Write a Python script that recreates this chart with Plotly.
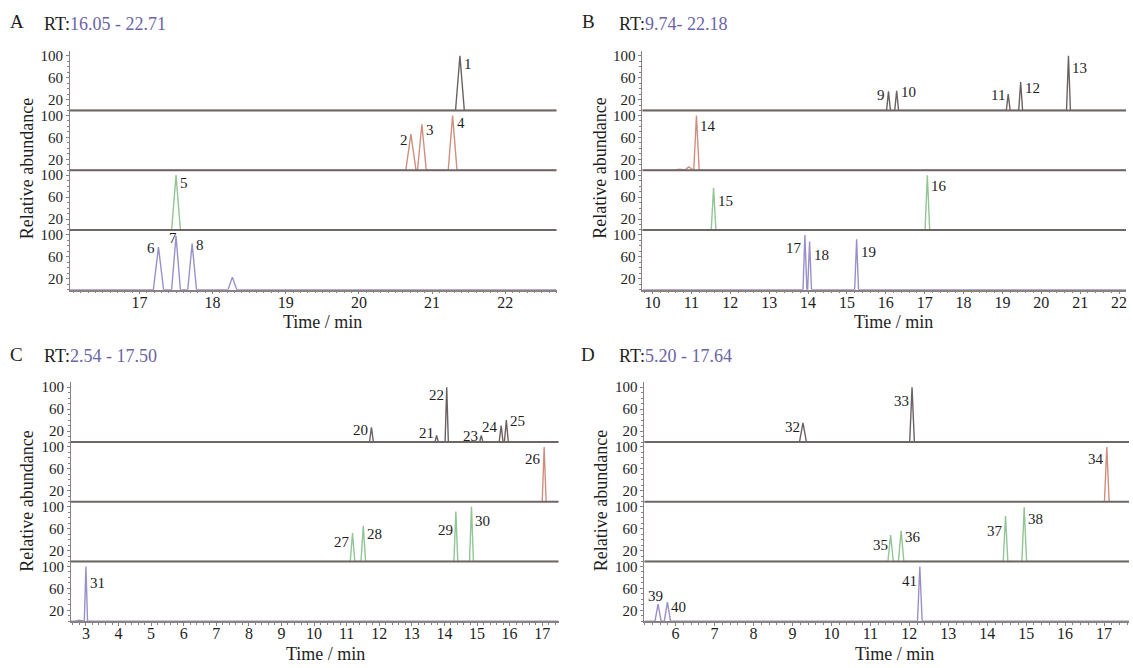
import plotly.graph_objects as go

W, H = 1133, 668
FONT = "Liberation Serif"

# ---------------- data ----------------
panel_letters = ["A", "B", "C", "D"]
rt_windows = ["16.05 - 22.71", "9.74- 22.18", "2.54 - 17.50", "5.20 - 17.64"]
y_tick_vals = [20, 60, 100]
y_tick_text = ["20", "60", "100"]

# Panel A  (retention time / min, relative abundance %, half base width / min, label)
A1_rt = [21.38];                    A1_h = [100];               A1_w = [0.06];                    A1_lab = ["1"]
A2_rt = [20.71, 20.86, 21.28];      A2_h = [66, 84, 100];       A2_w = [0.07, 0.06, 0.06];        A2_lab = ["2", "3", "4"]
A3_rt = [17.50];                    A3_h = [100];               A3_w = [0.06];                    A3_lab = ["5"]
A4_rt = [17.26, 17.50, 17.72, 18.27]; A4_h = [78, 98, 84, 23];  A4_w = [0.07, 0.06, 0.06, 0.06];  A4_lab = ["6", "7", "8", ""]

# Panel B
B1_rt = [16.07, 16.28, 19.15, 19.47, 20.70]; B1_h = [35, 36, 30, 52, 100]; B1_w = [0.05, 0.05, 0.05, 0.05, 0.05]; B1_lab = ["9", "10", "11", "12", "13"]
B2_rt = [10.70, 10.93, 11.13];      B2_h = [2, 6, 100];         B2_w = [0.15, 0.10, 0.07];        B2_lab = ["", "", "14"]
B3_rt = [11.57, 17.07];             B3_h = [77, 100];           B3_w = [0.06, 0.06];              B3_lab = ["15", "16"]
B4_rt = [13.92, 14.04, 15.25];      B4_h = [100, 88, 92];       B4_w = [0.05, 0.05, 0.05];        B4_lab = ["17", "18", "19"]

# Panel C
C1_rt = [11.76, 13.76, 14.07, 15.13, 15.74, 15.90]; C1_h = [27, 12, 100, 12, 30, 40]; C1_w = [0.06, 0.05, 0.05, 0.05, 0.06, 0.06]; C1_lab = ["20", "21", "22", "23", "24", "25"]
C2_rt = [17.06];                    C2_h = [100];               C2_w = [0.06];                    C2_lab = ["26"]
C3_rt = [11.18, 11.51, 14.35, 14.83]; C3_h = [52, 65, 91, 100]; C3_w = [0.07, 0.07, 0.06, 0.06];  C3_lab = ["27", "28", "29", "30"]
C4_rt = [2.80, 3.00];               C4_h = [2, 100];            C4_w = [0.15, 0.05];              C4_lab = ["", "31"]

# Panel D
D1_rt = [9.27, 12.07];              D1_h = [35, 100];           D1_w = [0.09, 0.06];              D1_lab = ["32", "33"]
D2_rt = [17.07];                    D2_h = [100];               D2_w = [0.06];                    D2_lab = ["34"]
D3_rt = [11.52, 11.79, 14.47, 14.95]; D3_h = [48, 56, 83, 99];  D3_w = [0.07, 0.07, 0.06, 0.06];  D3_lab = ["35", "36", "37", "38"]
D4_rt = [5.55, 5.79, 12.27];        D4_h = [31, 35, 100];       D4_w = [0.08, 0.08, 0.06];        D4_lab = ["39", "40", "41"]

panels_data = [
    [(A1_rt, A1_h, A1_w, A1_lab), (A2_rt, A2_h, A2_w, A2_lab), (A3_rt, A3_h, A3_w, A3_lab), (A4_rt, A4_h, A4_w, A4_lab)],
    [(B1_rt, B1_h, B1_w, B1_lab), (B2_rt, B2_h, B2_w, B2_lab), (B3_rt, B3_h, B3_w, B3_lab), (B4_rt, B4_h, B4_w, B4_lab)],
    [(C1_rt, C1_h, C1_w, C1_lab), (C2_rt, C2_h, C2_w, C2_lab), (C3_rt, C3_h, C3_w, C3_lab), (C4_rt, C4_h, C4_w, C4_lab)],
    [(D1_rt, D1_h, D1_w, D1_lab), (D2_rt, D2_h, D2_w, D2_lab), (D3_rt, D3_h, D3_w, D3_lab), (D4_rt, D4_h, D4_w, D4_lab)],
]

# ---------------- style / layout ----------------
x_ranges = [[16.05, 22.70], [9.74, 22.18], [2.54, 17.50], [5.20, 17.64]]
x_minor = [0.1, 0.2, 0.2, 0.2]
x_px = [(70, 557), (643, 1127), (71, 559), (645, 1130)]        # axis left/right, screen pixels
baselines_px = [[108, 168, 228, 288], [108, 168, 228, 288], [441, 501, 561, 621], [441, 501, 561, 621]]
STRIP_PX = 60
Y_TOP = 109
strip_colors = ["#6b6161", "#cf8f7e", "#93c495", "#9a90c8"]
BASE_COLOR = "#6f6565"
AXIS_COLOR = "#8a8282"
RT_COLOR = "#6b64a6"
TXT = "#1e1e1e"

# label placement: side ('l' left of peak, 'r' right, 'c' centred just left) and height
label_pos = {
    "1": ("r", 84), "2": ("l", 56), "3": ("r", 73), "4": ("r", 87), "5": ("r", 85), "6": ("l", 76),
    "7": ("c", 95), "8": ("r", 82),
    "9": ("l", 29), "10": ("r", 33), "11": ("l", 29), "12": ("r", 42), "13": ("r", 78), "14": ("r", 80),
    "15": ("r", 53), "16": ("r", 80), "17": ("l", 76), "18": ("r", 64), "19": ("r", 69),
    "20": ("l", 22), "21": ("l", 17), "22": ("l", 85), "23": ("l", 11), "24": ("l", 27), "25": ("r", 39),
    "26": ("l", 78), "27": ("l", 36), "28": ("r", 50), "29": ("l", 57), "30": ("r", 74), "31": ("r", 70),
    "32": ("l", 28), "33": ("l", 75), "34": ("l", 78), "35": ("l", 30), "36": ("r", 44), "37": ("l", 56),
    "38": ("r", 77), "39": ("c", 46), "40": ("r", 26), "41": ("l", 73),
}

# text positions (screen pixels)
letter_px = [(17, 19), (589, 19), (17, 353), (589, 353)]
rt_px = [(42, 21), (618, 21), (42, 355), (618, 355)]
ytitle_px = [(27, 166), (601, 166), (27, 500), (601, 500)]
xtitle_px = [(323, 320), (894, 320), (326, 654), (895, 654)]


def px_x(p):
    return p / W


def px_y(p):
    return 1 - p / H


fig = go.Figure()
layout = dict(
    width=W, height=H, margin=dict(l=0, r=0, t=0, b=0),
    paper_bgcolor="white", plot_bgcolor="white", showlegend=False,
    font=dict(family=FONT, color=TXT, size=14),
)
shapes, annotations = [], []

for p in range(4):
    xname = "x" if p == 0 else f"x{p + 1}"
    xlay = "xaxis" if p == 0 else f"xaxis{p + 1}"
    x0, x1 = x_ranges[p]
    for s in range(4):
        idx = p * 4 + s + 1
        yname = "y" if idx == 1 else f"y{idx}"
        ylay = "yaxis" if idx == 1 else f"yaxis{idx}"
        b = baselines_px[p][s]
        layout[ylay] = dict(
            domain=[px_y(b), px_y(b - STRIP_PX)], range=[0, Y_TOP], anchor=xname,
            tickvals=y_tick_vals, ticktext=y_tick_text, ticks="outside", ticklen=3,
            tickcolor=AXIS_COLOR, showline=True, linecolor=AXIS_COLOR, linewidth=1,
            showgrid=False, zeroline=False, fixedrange=True,
            tickfont=dict(family=FONT, size=15, color=TXT),
            minor=dict(dtick=10, ticklen=2, ticks="outside", tickcolor=AXIS_COLOR, showgrid=False),
        )
        rts, hs, ws, labs = panels_data[p][s]
        xs, ys = [x0], [0]
        for rt, h, w in zip(rts, hs, ws):
            xs += [rt - w, rt, rt + w]
            ys += [0, h, 0]
        xs.append(x1)
        ys.append(0)
        fig.add_trace(go.Scatter(
            x=xs, y=ys, mode="lines", xaxis=xname, yaxis=yname,
            line=dict(color=strip_colors[s], width=1.4),
            hoverinfo="skip",
        ))
        if s < 3:
            shapes.append(dict(type="line", xref=f"{xname} domain", yref=f"{yname} domain",
                               x0=0, x1=1, y0=0, y1=0,
                               line=dict(color=BASE_COLOR, width=2)))
        for rt, h, lab in zip(rts, hs, labs):
            if not lab:
                continue
            side, ly = label_pos[lab]
            if side == "l":
                xa, xs_ = "right", -1
            elif side == "r":
                xa, xs_ = "left", 2
            else:
                xa, xs_ = "center", -3
            annotations.append(dict(
                x=rt, y=ly, xref=xname, yref=yname, text=lab, showarrow=False,
                xanchor=xa, yanchor="middle", xshift=xs_,
                font=dict(family=FONT, size=15, color=TXT),
            ))
    bottom_y = f"y{p * 4 + 4}"
    layout[xlay] = dict(
        domain=[px_x(x_px[p][0]), px_x(x_px[p][1])], range=[x0, x1], anchor=bottom_y,
        dtick=1, tick0=0, ticks="outside", ticklen=3, tickcolor=AXIS_COLOR,
        showline=True, linecolor=AXIS_COLOR, linewidth=1.5, showgrid=False, zeroline=False,
        tickfont=dict(family=FONT, size=16, color=TXT), fixedrange=True, ticklabelstandoff=-6,
        minor=dict(dtick=x_minor[p], ticklen=2, ticks="outside", tickcolor=AXIS_COLOR, showgrid=False),
    )
    # panel texts
    lx, lyp = letter_px[p]
    annotations.append(dict(x=px_x(lx), y=px_y(lyp), xref="paper", yref="paper", text=panel_letters[p],
                            showarrow=False, xanchor="center", yanchor="middle",
                            font=dict(family=FONT, size=19, color=TXT)))
    rx, ry = rt_px[p]
    annotations.append(dict(x=px_x(rx), y=px_y(ry), xref="paper", yref="paper",
                            text=f"RT:<span style='color:{RT_COLOR}'>{rt_windows[p]}</span>",
                            showarrow=False, xanchor="left", yanchor="middle",
                            font=dict(family=FONT, size=18, color=TXT)))
    tx, ty = ytitle_px[p]
    annotations.append(dict(x=px_x(tx), y=px_y(ty), xref="paper", yref="paper", text="Relative abundance",
                            textangle=-90, showarrow=False, xanchor="center", yanchor="middle",
                            font=dict(family=FONT, size=18, color=TXT)))
    xx, xy = xtitle_px[p]
    annotations.append(dict(x=px_x(xx), y=px_y(xy), xref="paper", yref="paper", text="Time / min",
                            showarrow=False, xanchor="center", yanchor="middle",
                            font=dict(family=FONT, size=18, color=TXT)))

layout["shapes"] = shapes
layout["annotations"] = annotations
fig.update_layout(**layout)
fig.write_html(
    "out.html",
    config={"displayModeBar": False},
    post_script="document.body.style.margin='0';document.body.style.overflow='hidden';",
)
